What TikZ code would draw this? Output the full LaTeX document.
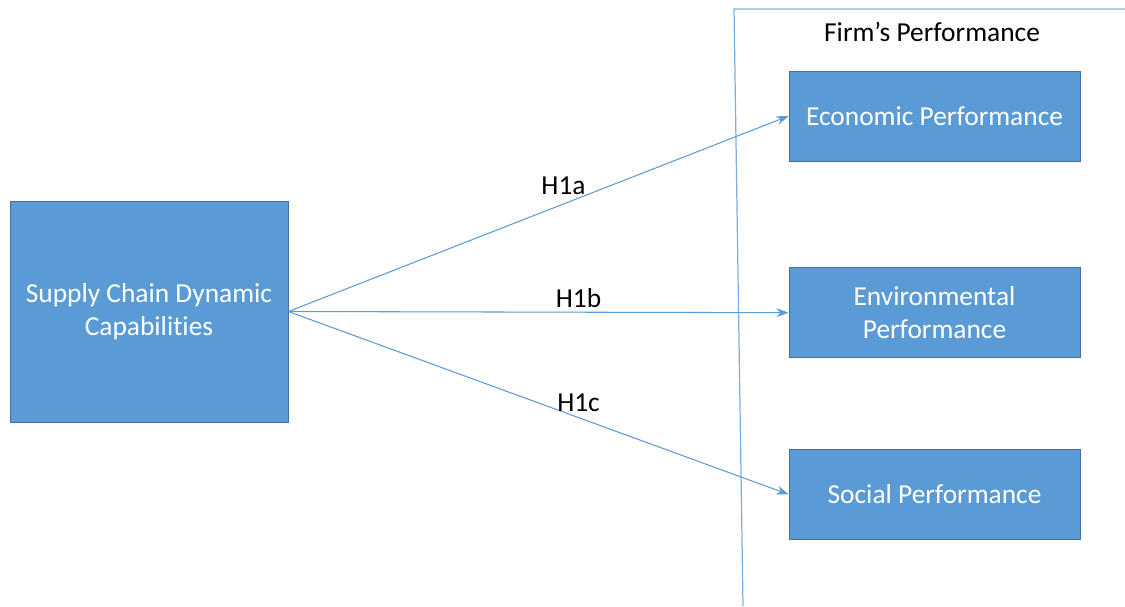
\documentclass[tikz,border=0pt]{standalone}
\usepackage{fontspec}
\setmainfont{Carlito}[RawFeature=-liga]
\usetikzlibrary{arrows.meta, positioning}
\definecolor{boxblue}{HTML}{5B9BD5}
\definecolor{boxedge}{HTML}{41719C}
\definecolor{linkblue}{HTML}{5B9BD5}

\begin{document}
\begin{tikzpicture}[
    node distance=2.12cm and 1cm,
    >={Stealth[length=7pt,width=5pt]},
    box/.style={draw=boxedge, fill=boxblue, text=white, align=center, font=\fontsize{15.6}{19}\selectfont, minimum width=5.82cm, minimum height=1.8cm},
    flow/.style={->, linkblue, line width=0.6pt},
    hyp/.style={text=black, font=\fontsize{15.6}{19}\selectfont, inner sep=2pt}
  ]
    \useasboundingbox (0,0) rectangle (22.5,-12.12);

    % driver on the left
    \node[box, minimum width=5.56cm, minimum height=4.42cm] (scdc) at (2.98,-6.23) {Supply Chain Dynamic\\Capabilities};

    % outcome boxes
    \node[box] (econ) at (18.69,-2.32) {Economic Performance};
    \node[box, below=of econ] (env) {Environmental\\Performance};
    \node[box, below=1.82cm of env] (social) {Social Performance};

    % frame around the outcomes
    \coordinate (frametl) at (14.68,-0.18);
    \coordinate (frametr) at (22.5,-0.18);
    \coordinate (framebl) at (14.86,-12.12);
    \draw[linkblue!80, line width=0.7pt] (frametr) -- (frametl) -- (framebl);
    \node[hyp] (firm) at (18.64,-0.64) {Firm’s Performance};

    % hypotheses
    \draw[flow] (scdc.east) -- node[hyp, pos=0.55, above=3pt] {H1a} (econ.west);
    \draw[flow] (scdc.east) -- node[hyp, pos=0.58, above] {H1b} (env.west);
    \draw[flow] (scdc.east) -- node[hyp, pos=0.58, above=1pt] {H1c} (social.west);
  \end{tikzpicture}
\end{document}
